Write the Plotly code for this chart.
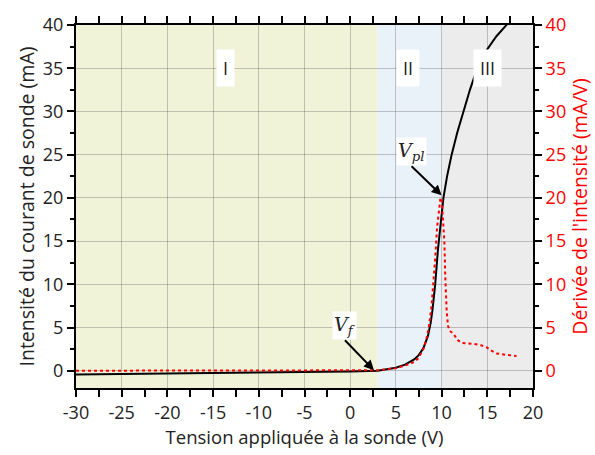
import plotly.graph_objects as go

# Probe characteristic: applied voltage (V) vs probe current (mA)
voltage = [-30, -20, -10, -5, 0, 3, 4, 5, 6, 7, 7.5, 8, 8.5, 8.8, 9.0, 9.3, 9.6,
           9.9, 10.2, 10.6, 11.1, 11.7, 12.4, 13.1, 13.9, 15.0, 16.0, 17.1, 18.3]
current = [-0.45, -0.35, -0.25, -0.18, -0.08, 0.0, 0.15, 0.35, 0.7, 1.3, 1.8, 2.6, 4.0,
           5.5, 7.0, 10.0, 14.0, 17.0, 20.0, 22.5, 25.0, 27.5, 30.0, 32.5, 35.0, 37.2,
           38.7, 40.0, 41.8]

# Derivative of the current (mA/V)
deriv_voltage = [-30, -20, -10, 0, 3, 4, 5, 6, 7, 7.5, 8.0, 8.3, 8.6, 8.9, 9.1, 9.3,
                 9.5, 9.7, 9.85, 10.0, 10.15, 10.3, 10.4, 10.55, 10.7, 10.9, 11.3,
                 11.7, 12.2, 13.5, 14.3, 14.95, 15.5, 16.0, 17.0, 18.2]
deriv_current = [0.0, 0.0, 0.0, 0.02, 0.05, 0.15, 0.3, 0.6, 1.0, 1.5, 2.5, 3.5, 5.0,
                 7.5, 10.0, 13.0, 16.5, 18.8, 19.8, 20.0, 18.0, 15.0, 11.0, 7.0, 5.2,
                 4.6, 4.3, 3.6, 3.2, 3.1, 2.95, 2.7, 2.3, 2.0, 1.85, 1.7]

# Regions of the characteristic
region_names = ["I", "II", "III"]
region_bounds = [(-30, 3), (3, 10), (10, 20)]
region_colors = ["#f0f3d8", "#e9f1f9", "#ececec"]
region_label_x = [-13.6, 6.35, 15.0]
region_label_y = 35

x_ticks = list(range(-30, 21, 5))
x_ticktext = [str(v) for v in x_ticks]
y_ticks = list(range(0, 41, 5))
y_ticktext = [str(v) for v in y_ticks]

FONT = "Open Sans"
GRID = "rgba(60,60,60,0.28)"

fig = go.Figure()

for (x0, x1), col in zip(region_bounds, region_colors):
    fig.add_shape(type="rect", xref="x", yref="paper", x0=x0, x1=x1, y0=0, y1=1,
                  fillcolor=col, line_width=0, layer="below")

fig.add_trace(go.Scatter(x=voltage, y=current, mode="lines",
                         line=dict(color="black", width=2), yaxis="y",
                         showlegend=False))
fig.add_trace(go.Scatter(x=deriv_voltage, y=deriv_current, mode="lines",
                         line=dict(color="red", width=2, dash="dot"), yaxis="y2",
                         showlegend=False))

for name, lx in zip(region_names, region_label_x):
    fig.add_annotation(x=lx, y=region_label_y, xref="x", yref="y", text=name,
                       showarrow=False, bgcolor="white", borderpad=6,
                       font=dict(family=FONT, size=18, color="#222222"))

math_font = dict(family="DejaVu Serif", size=19, color="#222222")
fig.add_annotation(x=10.0, y=20.3, xref="x", yref="y", ax=-30, ay=-29,
                   text="<i>V</i><sub><i>pl</i></sub>", showarrow=True,
                   arrowhead=2, arrowsize=1, arrowwidth=2, arrowcolor="black",
                   bgcolor="white", yanchor="bottom", font=math_font)
fig.add_annotation(x=2.6, y=0.05, xref="x", yref="y", ax=-29, ay=-30,
                   text="<i>V</i><sub><i>f</i></sub>", showarrow=True,
                   arrowhead=2, arrowsize=1, arrowwidth=2, arrowcolor="black",
                   bgcolor="white", yanchor="bottom", font=math_font)

axis_common = dict(showline=True, linecolor="black", linewidth=2,
                   ticks="outside", ticklen=7, tickwidth=2, tickcolor="black",
                   zeroline=False)

fig.update_layout(
    width=595, height=455,
    margin=dict(l=76, r=62, t=19, b=67),
    paper_bgcolor="white", plot_bgcolor="white",
    font=dict(family=FONT, size=18, color="#222222"),
    xaxis=dict(range=[-30, 20], tickvals=x_ticks, ticktext=x_ticktext,
               mirror="allticks", showgrid=True, gridcolor=GRID, gridwidth=1,
               minor=dict(ticks="outside", dtick=2.5, ticklen=4, tickwidth=2,
                          tickcolor="black", showgrid=False),
               title=dict(text="Tension appliquée à la sonde (V)", standoff=5,
                          font=dict(size=18.5)),
               tickfont=dict(size=18), **axis_common),
    yaxis=dict(range=[-2, 40], tickvals=y_ticks, ticktext=y_ticktext,
               showgrid=True, gridcolor=GRID, gridwidth=1,
               minor=dict(ticks="outside", dtick=2.5, tick0=0, ticklen=4,
                          tickwidth=2, tickcolor="black", showgrid=False),
               title=dict(text="Intensité du courant de sonde (mA)", standoff=3,
                          font=dict(size=19.5)),
               tickfont=dict(size=18), **axis_common),
    yaxis2=dict(range=[-2, 40], tickvals=y_ticks, ticktext=y_ticktext,
                overlaying="y", side="right", showgrid=False,
                minor=dict(ticks="outside", dtick=2.5, tick0=0, ticklen=4,
                           tickwidth=2, tickcolor="black", showgrid=False),
                title=dict(text="Dérivée de l'intensité (mA/V)", standoff=3,
                           font=dict(size=19.5, color="red")),
                tickfont=dict(size=18, color="red"), **axis_common),
)

fig.write_html("out.html")
